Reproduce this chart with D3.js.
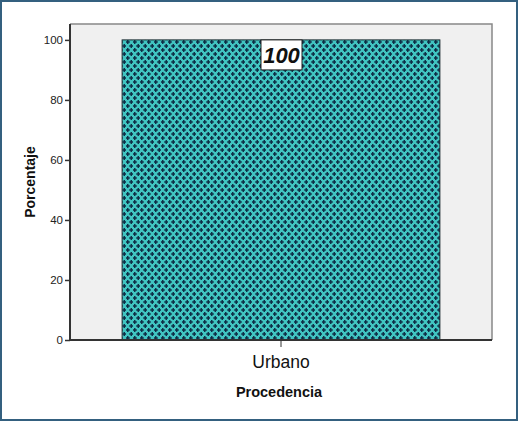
<!DOCTYPE html>
<html><head><meta charset="utf-8">
<script src="https://cdn.jsdelivr.net/npm/d3@7"></script>
<style>body{margin:0;background:#fff}svg{display:block}</style>
</head><body><svg id="c" width="518" height="421"></svg>
<script>
const categories = ["Urbano"];
const values = [100];
const yTicks = [0, 20, 40, 60, 80, 100];
const yTitle = "Porcentaje";
const xTitle = "Procedencia";

const svg = d3.select("#c");
const W = 518, H = 421;
const m = {left: 70, right: 26, top: 24, bottom: 81};
const pw = W - m.left - m.right, ph = H - m.top - m.bottom;

svg.append("rect").attr("x",1).attr("y",1).attr("width",W-2).attr("height",H-2)
  .attr("fill","#fff").attr("stroke","#34607f").attr("stroke-width",2);

const defs = svg.append("defs");
const pat = defs.append("pattern").attr("id","cross").attr("patternUnits","userSpaceOnUse")
  .attr("width",7).attr("height",8).attr("x",m.left).attr("y",m.top);
pat.append("rect").attr("width",7).attr("height",8).attr("fill","#41c4c1");
[[1.75,2],[5.25,6]].forEach(([cx,cy])=>{
  pat.append("path").attr("d",`M${cx-2},${cy}H${cx+2}M${cx},${cy-2}V${cy+2}`)
    .attr("stroke","#0d2b44").attr("stroke-width",1.4);
});

const g = svg.append("g").attr("transform",`translate(${m.left},${m.top})`);

const x = d3.scaleBand().domain(categories).range([0,pw]).paddingInner(0).paddingOuter(0.164);
const y = d3.scaleLinear().domain([0,105.3]).range([ph,0]);

g.append("rect").attr("width",pw).attr("height",ph).attr("fill","#f0f0f0");
g.append("path").attr("d",`M0,0H${pw}V${ph}`).attr("fill","none").attr("stroke","#888").attr("stroke-width",1.5);

g.selectAll(".bar").data(values).join("rect")
  .attr("x",(d,i)=>x(categories[i])).attr("y",d=>y(d))
  .attr("width",x.bandwidth()).attr("height",d=>ph-y(d))
  .attr("fill","url(#cross)").attr("stroke","#1a2a30").attr("stroke-width",1);

values.forEach((v,i)=>{
  const cx = x(categories[i]) + x.bandwidth()/2;
  g.append("rect").attr("x",cx-20).attr("y",y(v)).attr("width",41).attr("height",30)
    .attr("fill","#fff").attr("stroke","#222").attr("stroke-width",1);
  g.append("text").attr("x",cx+0.5).attr("y",y(v)+23).attr("text-anchor","middle")
    .attr("font-family","Liberation Sans, Arial, sans-serif").attr("font-size",22)
    .attr("font-weight","bold").attr("font-style","italic").attr("fill","#111").text(v);
});

const ya = g.append("g").call(d3.axisLeft(y).tickValues(yTicks).tickSize(5).tickPadding(2));
ya.select(".domain").attr("stroke","#333").attr("stroke-width",2).attr("d",`M0,0V${ph}`);
ya.selectAll(".tick line").attr("stroke","#333").attr("stroke-width",1.5);
ya.selectAll("text").attr("font-family","Liberation Sans, Arial, sans-serif").attr("font-size",11.5).attr("fill","#222");

const xa = g.append("g").attr("transform",`translate(0,${ph})`).call(d3.axisBottom(x).tickSize(7).tickPadding(9));
xa.select(".domain").attr("stroke","#333").attr("stroke-width",2).attr("d",`M0,0H${pw}`);
xa.selectAll(".tick line").attr("stroke","#333").attr("stroke-width",1);
xa.selectAll("text").attr("font-family","Liberation Sans, Arial, sans-serif").attr("font-size",17.5).attr("fill","#111");

svg.append("text").attr("x",m.left+pw/2-2).attr("y",397).attr("text-anchor","middle")
  .attr("font-family","Liberation Sans, Arial, sans-serif").attr("font-size",14.5).attr("font-weight","bold").attr("fill","#111").text(xTitle);
svg.append("text").attr("transform",`translate(35,${m.top+ph/2}) rotate(-90)`).attr("text-anchor","middle")
  .attr("font-family","Liberation Sans, Arial, sans-serif").attr("font-size",14).attr("font-weight","bold").attr("fill","#111").text(yTitle);
</script></body></html>
